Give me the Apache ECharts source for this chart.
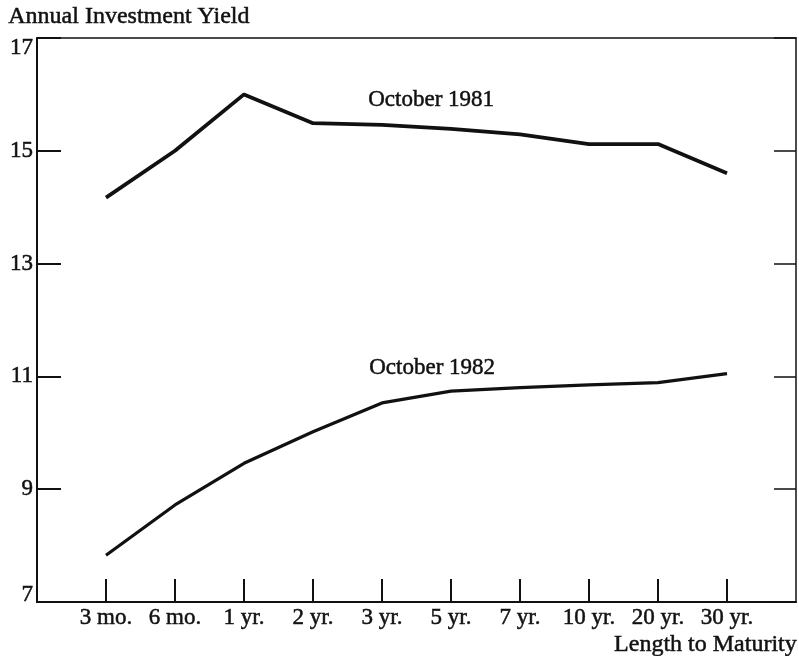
<!DOCTYPE html>
<html>
<head>
<meta charset="utf-8">
<script src="https://cdn.jsdelivr.net/npm/echarts@6/dist/echarts.min.js"></script>
<style>
  html, body { margin: 0; padding: 0; background: #fff; }
  #chart { width: 799px; height: 656px; }
</style>
</head>
<body>
<div id="chart"></div>
<script>
// maturities (empty slots at both ends leave room like the original)
const maturities = ['3 mo.', '6 mo.', '1 yr.', '2 yr.', '3 yr.', '5 yr.', '7 yr.', '10 yr.', '20 yr.', '30 yr.']
const oct1981 = [14.17, 15.0, 16.0, 15.49, 15.46, 15.39, 15.29, 15.12, 15.12, 14.6]
const oct1982 = [7.83, 8.72, 9.46, 10.02, 10.53, 10.74, 10.8, 10.85, 10.89, 11.05]
const yTicks = [7, 9, 11, 13, 15, 17]

const pad = arr => [null].concat(arr, [null])
const cats = [''].concat(maturities, [''])
const yMin = yTicks[0], yMax = yTicks[yTicks.length - 1]

const font = '"Liberation Serif", "DejaVu Serif", serif'
const ink = '#111'
const heavy = { textBorderColor: ink, textBorderWidth: 0.5 }

const chart = echarts.init(document.getElementById('chart'))
chart.setOption({
  animation: false,
  backgroundColor: '#fff',
  textStyle: { fontFamily: font, color: ink },
  grid: { left: 37, right: 2, top: 38, bottom: 54, containLabel: false },
  xAxis: [
    {
      type: 'category',
      data: cats,
      boundaryGap: false,
      axisLine: { lineStyle: { color: ink, width: 2 } },
      axisTick: {
        inside: true, length: 23,
        lineStyle: { color: ink, width: 2 },
        interval: (i, v) => v !== ''
      },
      axisLabel: Object.assign({
        interval: 0, margin: 4,
        fontFamily: font, fontSize: 23, color: ink
      }, heavy),
      splitLine: { show: false }
    },
    {
      type: 'category',
      data: cats,
      position: 'top',
      boundaryGap: false,
      axisLine: { lineStyle: { color: ink, width: 1.5 } },
      axisTick: { show: false },
      axisLabel: { show: false }
    }
  ],
  yAxis: [
    {
      type: 'value',
      min: yMin, max: yMax, interval: 2,
      axisLine: { show: true, lineStyle: { color: ink, width: 2 } },
      axisTick: { show: true, inside: true, length: 24, lineStyle: { color: ink, width: 2 } },
      axisLabel: Object.assign({
        margin: 4, fontFamily: font, fontSize: 23, color: ink,
        formatter: v => v === yMax ? '{top|' + v + '}' : v === yMin ? '{bot|' + v + '}' : String(v),
        rich: {
          top: Object.assign({ fontFamily: font, fontSize: 23, color: ink, padding: [20, 0, 0, 0] }, heavy),
          bot: Object.assign({ fontFamily: font, fontSize: 23, color: ink, padding: [0, 0, 14, 0] }, heavy)
        }
      }, heavy),
      splitLine: { show: false }
    },
    {
      type: 'value',
      position: 'right',
      min: yMin, max: yMax, interval: 2,
      axisLine: { show: true, lineStyle: { color: ink, width: 1.5 } },
      axisTick: { show: true, inside: true, length: 22, lineStyle: { color: ink, width: 1.5 } },
      axisLabel: { show: false },
      splitLine: { show: false }
    }
  ],
  series: [
    {
      name: 'October 1981',
      type: 'line',
      data: pad(oct1981),
      symbol: 'none',
      lineStyle: { color: ink, width: 3.8 }
    },
    {
      name: 'October 1982',
      type: 'line',
      data: pad(oct1982),
      symbol: 'none',
      lineStyle: { color: ink, width: 3.2 }
    }
  ],
  graphic: [
    {
      type: 'text', left: 8, top: 4,
      style: Object.assign({ text: 'Annual Investment Yield', font: '24px ' + font, fill: ink }, { stroke: ink, lineWidth: 0.5 })
    },
    {
      type: 'text', right: 2, top: 632,
      style: { text: 'Length to Maturity', font: '24px ' + font, fill: ink, stroke: ink, lineWidth: 0.5 }
    },
    {
      type: 'text', left: 368, top: 88,
      style: { text: 'October 1981', font: '23px ' + font, fill: ink, stroke: ink, lineWidth: 0.5 }
    },
    {
      type: 'text', left: 369, top: 356,
      style: { text: 'October 1982', font: '23px ' + font, fill: ink, stroke: ink, lineWidth: 0.5 }
    }
  ]
})
</script>
</body>
</html>
